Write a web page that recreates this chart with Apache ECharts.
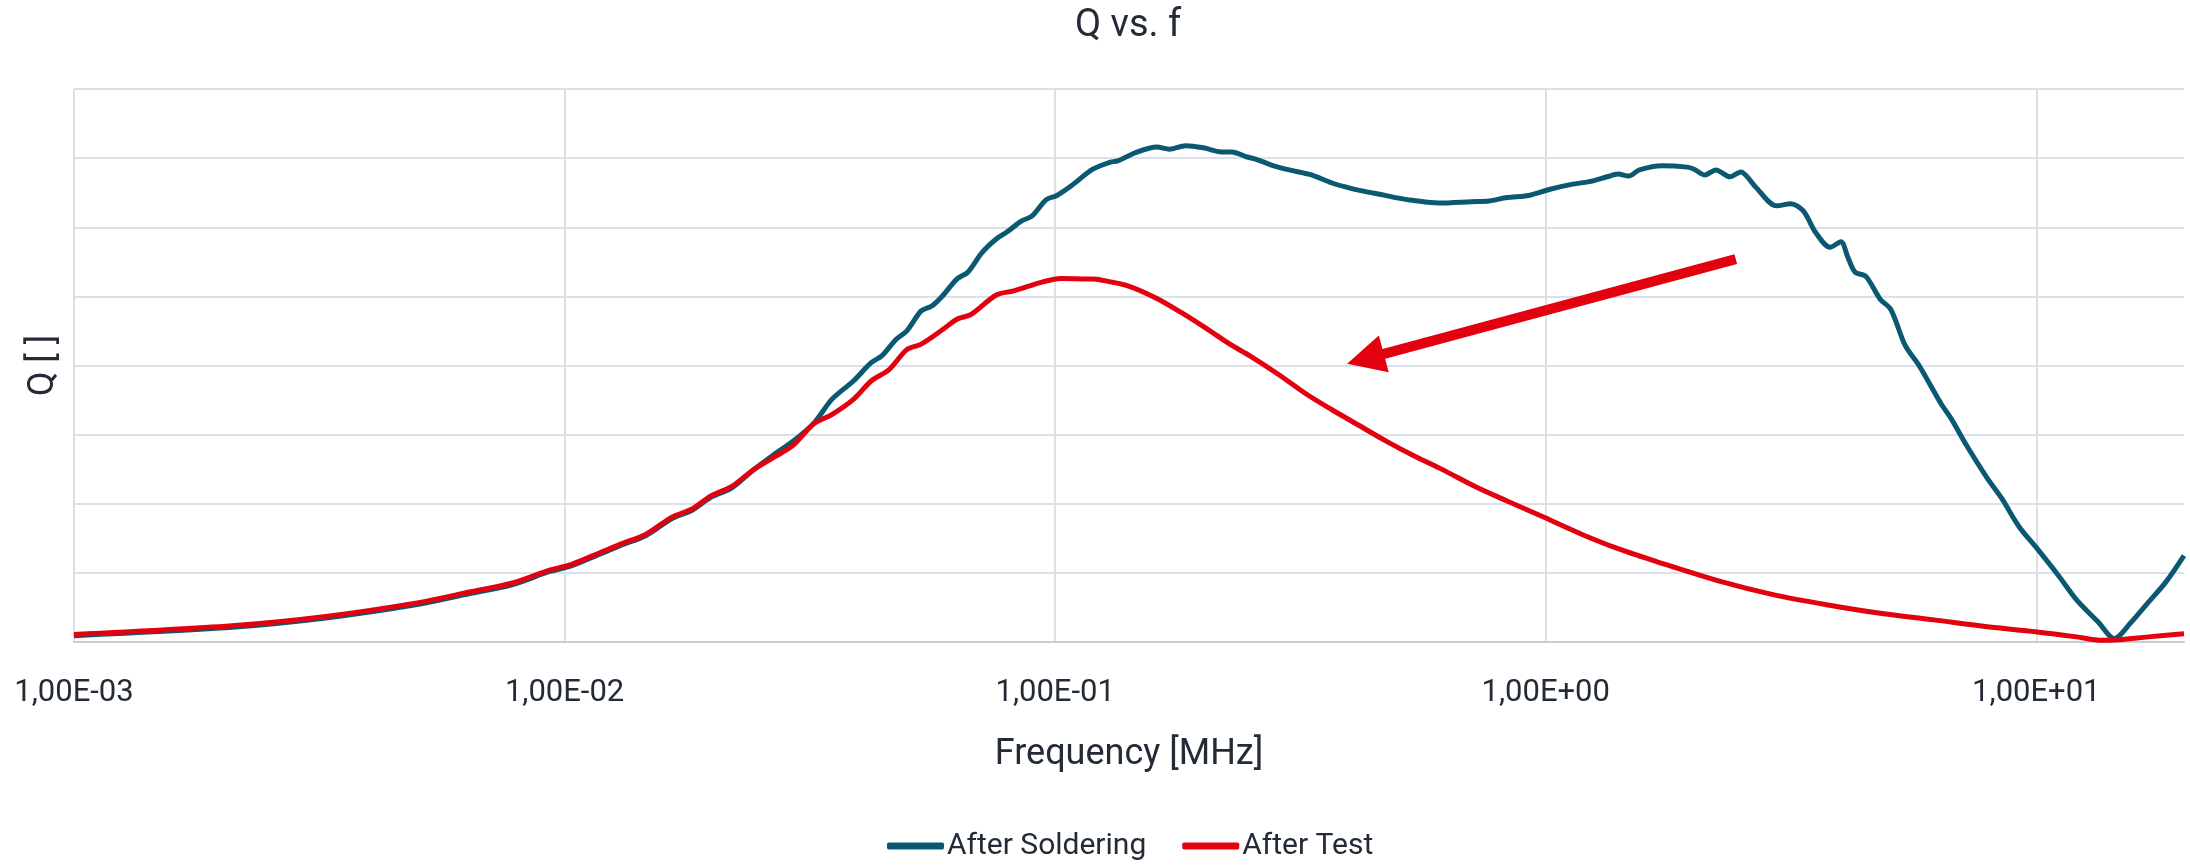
<!DOCTYPE html>
<html>
<head>
<meta charset="utf-8">
<title>Q vs. f</title>
<script src="https://cdn.jsdelivr.net/npm/echarts@6/dist/echarts.min.js"></script>
<style>
  html, body { margin: 0; padding: 0; background: #fff; }
  #chart { width: 2190px; height: 865px; }
</style>
</head>
<body>
<div id="chart"></div>
<script>
// frequency in MHz, Q (8 grid steps of 50)
const solderFreq = [
  0.001, 0.0021, 0.00326, 0.00504, 0.00627, 0.0078, 0.00932, 0.01031, 0.01179, 0.01304,
  0.01466, 0.01649, 0.01824, 0.01983, 0.02192, 0.02426, 0.02682, 0.02917, 0.03226, 0.03505,
  0.03879, 0.04217, 0.04432, 0.04743, 0.04984, 0.05333, 0.05605, 0.05899, 0.06304, 0.06637,
  0.07087, 0.07584, 0.07971, 0.0853, 0.08965, 0.09592, 0.1008, 0.1079, 0.1193, 0.1293,
  0.1342, 0.1459, 0.1612, 0.171, 0.1845, 0.2006, 0.2182, 0.2293, 0.2453, 0.2578,
  0.2759, 0.3, 0.3318, 0.3666, 0.3923, 0.4196, 0.4637, 0.5216, 0.6067, 0.7056,
  0.7674, 0.8339, 0.9228, 1.0205, 1.128, 1.227, 1.334, 1.404, 1.476, 1.552,
  1.727, 1.942, 2.006, 2.112, 2.222, 2.375, 2.498, 2.672, 2.954, 3.159,
  3.347, 3.553, 3.799, 3.995, 4.132, 4.272, 4.493, 4.805, 5.052, 5.404,
  5.779, 6.391, 6.72, 7.185, 7.941, 8.496, 9.24, 10.04, 11.11, 12.08,
  13.37, 14.42, 15.54, 16.9, 18.38, 20
]
const solderQ = [
  4.6, 10.6, 17.3, 27.2, 34.3, 41.3, 51, 55, 63.5, 70,
  77, 89, 95.5, 104.5, 111.5, 124.5, 136, 145, 158.5, 175.5,
  188.8, 202, 207, 219, 225, 239.5, 243, 250.5, 262.5, 267.5,
  281.5, 291.5, 296.5, 304.5, 308, 320, 323, 330, 342, 347,
  348, 354, 358, 356.5, 359, 357.5, 354.5, 354.5, 351, 349,
  345, 341.5, 338, 332, 329, 326.5, 323.5, 320, 317.5, 318.5,
  319, 321.5, 323, 327.5, 331, 333, 336.5, 338.5, 337, 341.5,
  344.5, 343.5, 342, 337.8, 341.5, 336.5, 340, 329.5, 315.5, 317,
  312, 296, 285.5, 289.5, 278, 267.5, 264.5, 248, 240.5, 214.5,
  199.5, 172.5, 161, 143, 118.5, 104, 83, 67.5, 47.8, 30.5,
  14.5, 2.5, 13.5, 28.5, 43.5, 62.5
]

const testFreq = [
  0.001, 0.0021, 0.00326, 0.00504, 0.00627, 0.0078, 0.00932, 0.01031, 0.01179, 0.01304,
  0.01466, 0.01649, 0.01824, 0.01983, 0.02192, 0.02426, 0.02682, 0.02917, 0.03226, 0.03505,
  0.03879, 0.04217, 0.04587, 0.04984, 0.05333, 0.05899, 0.06304, 0.06744, 0.07584, 0.08235,
  0.09438, 0.1026, 0.1193, 0.1234, 0.1411, 0.1612, 0.1813, 0.2039, 0.2293, 0.2495,
  0.2853, 0.3261, 0.3666, 0.4124, 0.4718, 0.5397, 0.6174, 0.7178, 0.8339, 0.9947,
  1.186, 1.404, 1.711, 2.259, 2.906, 3.736, 4.805, 6.18, 7.941, 9.95,
  12.08, 13.59, 14.78, 16.9, 20
]
const testQ = [
  5.5, 11.8, 18.5, 28.5, 35.5, 42.5, 52, 56, 64.5, 71,
  78, 90, 96.5, 105.5, 112.5, 124.5, 134, 142, 158, 164.5,
  175.5, 188.8, 197, 211.5, 215.5, 226, 233.5, 237, 251, 254,
  260.5, 263, 262.5, 262, 257.5, 248.5, 238, 226.5, 214.5, 207,
  193.5, 179, 168, 157.5, 145.5, 134.5, 124.5, 112.5, 102, 90,
  77.8, 67.5, 57.3, 44, 34.3, 27, 20.8, 16, 11, 7.4,
  3.7, 1.2, 1.7, 3.7, 6
]

// annotation arrow, from tail to head (MHz, Q)
const arrowFrom = [2.44, 277]
const arrowTo = [0.429, 204.8]

const zip = (xs, ys) => xs.map((x, i) => [x, ys[i]])

const txt = '#222b36'
const font = 'Roboto'

// 0.001 -> "1,00E-03"
function sci(v) {
  const e = Math.round(Math.log10(v))
  const m = v / Math.pow(10, e)
  return m.toFixed(2).replace('.', ',') + 'E' + (e < 0 ? '-' : '+') + String(Math.abs(e)).padStart(2, '0')
}

const chart = echarts.init(document.getElementById('chart'), null, { renderer: 'canvas' })

chart.setOption({
  animation: false,
  backgroundColor: '#fff',
  textStyle: { fontFamily: font },
  title: {
    text: 'Q vs. f',
    left: 1075,
    top: 7,
    padding: 0,
    textStyle: { fontFamily: font, fontSize: 38, fontWeight: 'normal', color: txt }
  },
  legend: {
    data: ['After Soldering', 'After Test'],
    left: 887,
    top: 831,
    padding: 0,
    icon: 'roundRect',
    itemWidth: 57,
    itemHeight: 7,
    itemGap: 36,
    textStyle: { fontFamily: font, fontSize: 30, color: txt, padding: [0, 0, 0, -2] }
  },
  grid: {
    left: 74,
    right: 6,
    top: 89,
    bottom: 223,
    outerBoundsMode: 'none'
  },
  xAxis: {
    type: 'log',
    logBase: 10,
    min: 0.001,
    max: 20,
    name: 'Frequency [MHz]',
    nameLocation: 'middle',
    nameGap: 95,
    nameTextStyle: { fontFamily: font, fontSize: 36, color: txt },
    axisLine: { show: true, lineStyle: { color: '#c6cdd8', width: 2 } },
    axisTick: { show: false },
    axisLabel: {
      margin: 36,
      fontFamily: font,
      fontSize: 31,
      color: txt,
      showMinLabel: true,
      showMaxLabel: false,
      formatter: sci
    },
    splitLine: {
      show: true,
      showMaxLine: false,
      lineStyle: { color: '#dce1e9', width: 2 }
    }
  },
  yAxis: {
    type: 'value',
    min: 0,
    max: 400,
    interval: 50,
    name: 'Q [ ]',
    nameLocation: 'middle',
    nameGap: 12,
    nameTextStyle: { fontFamily: font, fontSize: 36, color: txt },
    axisLine: { show: false },
    axisTick: { show: false },
    axisLabel: { show: false },
    splitLine: { show: true, lineStyle: { color: '#dce1e9', width: 2 } }
  },
  series: [
    {
      name: 'After Soldering',
      type: 'line',
      data: zip(solderFreq, solderQ),
      showSymbol: false,
      smooth: 0.3,
      color: '#0b5872',
      lineStyle: { width: 5, color: '#0b5872' }
    },
    {
      name: 'After Test',
      type: 'line',
      data: zip(testFreq, testQ),
      showSymbol: false,
      smooth: 0.3,
      color: '#e3000f',
      lineStyle: { width: 5, color: '#e3000f' },
      markLine: {
        silent: true,
        animation: false,
        symbolSize: 38,
        label: { show: false },
        lineStyle: { type: 'solid', color: '#e3000f', width: 10, cap: 'butt' },
        emphasis: { disabled: true },
        data: [[
          { coord: arrowFrom, symbol: 'none' },
          { coord: arrowTo, symbol: 'triangle' }
        ]]
      }
    }
  ]
})
</script>
</body>
</html>
